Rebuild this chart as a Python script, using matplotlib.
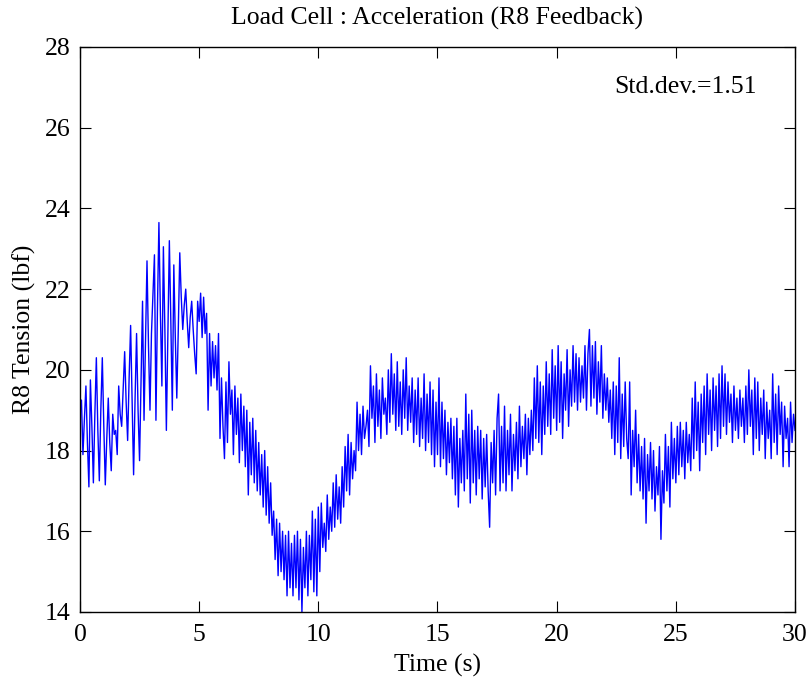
import numpy as np
import matplotlib
matplotlib.use("Agg")
import matplotlib.pyplot as plt

# load cell tension at 1/16 s steps (one row per second)
sample_dt = 1.0 / 16
tension = [
    19.2, 19.25, 17.9, 18.8, 19.6, 18.2, 17.1, 19.75, 18.6, 17.2, 18.9, 20.3, 18.5, 17.25, 19.0, 20.3,
    18.6, 17.15, 18.3, 19.3, 18.2, 17.5, 18.9, 18.4, 18.5, 17.9, 19.6, 18.9, 18.6, 19.5, 20.45, 19.2,
    18.25, 19.8, 21.1, 19.2, 17.4, 19.3, 20.9, 19.0, 17.75, 19.8, 21.7, 18.75, 20.8, 22.7, 20.6, 19.0,
    20.9, 21.9, 22.85, 18.75, 21.5, 23.65, 21.4, 19.6, 23.05, 21.0, 18.5, 20.8, 23.2, 21.2, 19.0, 22.6,
    20.8, 19.3, 21.0, 22.9, 21.8, 21.0, 21.6, 22.0, 21.2, 20.55, 21.3, 21.7, 21.0, 20.4, 19.9, 21.7,
    21.2, 21.9, 20.8, 21.8, 20.9, 21.4, 19.0, 20.9, 19.6, 20.7, 19.8, 20.6, 19.5, 20.9, 18.3, 19.8,
    18.6, 17.8, 19.7, 18.2, 20.2, 18.9, 19.5, 17.9, 19.6, 18.4, 19.3, 17.7, 19.4, 18.0, 19.1, 17.6,
    19.0, 16.9, 18.7, 17.4, 18.8, 17.2, 18.5, 17.0, 18.2, 16.9, 17.9, 16.6, 18.0, 16.4, 17.6, 16.2,
    17.2, 15.9, 16.5, 15.3, 16.3, 14.9, 16.2, 15.0, 16.0, 14.8, 15.9, 14.4, 16.0, 14.6, 15.7, 14.4,
    15.9, 14.6, 16.0, 14.3, 15.8, 14.0, 15.6, 14.6, 16.0, 14.4, 15.9, 14.8, 16.5, 14.5, 16.3, 14.4,
    16.6, 15.0, 16.7, 15.6, 16.2, 15.5, 16.9, 15.8, 16.6, 16.0, 17.2, 16.1, 17.4, 16.3, 17.1, 16.2,
    17.6, 16.6, 18.1, 17.0, 18.4, 16.9, 18.2, 17.3, 18.0, 17.5, 19.2, 18.0, 18.9, 17.9, 19.1, 18.3,
    18.6, 19.0, 18.1, 20.1, 18.8, 19.6, 18.2, 19.9, 18.6, 19.5, 18.3, 19.8, 18.9, 19.3, 18.4, 20.0,
    18.7, 20.4, 18.9, 19.9, 18.5, 20.2, 18.6, 19.7, 18.4, 20.0, 18.8, 20.3, 18.5, 19.6, 18.7, 19.8,
    18.2, 19.5, 18.4, 19.8, 18.1, 19.3, 18.3, 19.9, 18.0, 19.4, 18.2, 19.7, 17.9, 19.5, 17.6, 19.2,
    17.9, 19.8, 17.6, 19.2, 17.8, 19.0, 17.4, 18.7, 17.7, 18.8, 17.3, 18.6, 16.9, 18.8, 16.6, 18.3,
    17.2, 18.5, 17.0, 19.4, 17.3, 18.9, 16.7, 19.0, 17.2, 18.5, 16.9, 18.6, 17.3, 18.5, 16.8, 18.3,
    17.1, 18.4, 17.0, 16.1, 18.2, 17.2, 18.5, 16.9, 18.8, 19.4, 17.0, 18.6, 17.2, 19.1, 17.0, 18.5,
    17.4, 18.9, 17.0, 18.4, 17.5, 18.7, 17.3, 19.1, 17.6, 18.6, 17.8, 18.9, 17.4, 18.8, 17.9, 19.0,
    18.0, 19.8, 18.3, 20.1, 18.2, 19.7, 17.9, 19.6, 18.4, 20.2, 18.6, 19.9, 18.4, 20.5, 18.8, 20.1,
    18.5, 20.6, 18.7, 20.2, 18.3, 19.9, 19.0, 20.5, 18.6, 20.0, 19.1, 20.6, 19.2, 20.4, 19.0, 20.3,
    19.2, 20.1, 19.3, 20.6, 19.0, 20.4, 21.0, 19.1, 20.6, 19.3, 20.7, 18.9, 20.2, 19.2, 20.6, 18.8,
    19.9, 19.0, 19.8, 18.7, 19.5, 18.3, 19.7, 17.9, 19.6, 18.2, 20.3, 17.8, 19.4, 18.1, 19.7, 18.3,
    17.8, 19.7, 16.9, 18.5, 17.6, 19.0, 17.2, 18.4, 17.0, 18.1, 16.8, 18.3, 16.2, 17.9, 17.0, 18.2,
    16.8, 18.0, 16.5, 17.6, 16.9, 18.1, 15.8, 17.5, 16.7, 18.4, 17.0, 18.1, 16.6, 18.7, 17.3, 18.3,
    17.2, 18.6, 17.4, 18.7, 17.6, 18.5, 17.3, 18.7, 17.7, 18.4, 17.5, 19.3, 17.8, 19.7, 18.0, 19.2,
    17.5, 19.4, 18.2, 19.6, 17.9, 19.9, 18.4, 19.5, 18.0, 19.8, 18.5, 19.6, 18.1, 19.9, 18.3, 20.1,
    18.6, 19.9, 18.4, 19.7, 18.7, 19.4, 18.2, 19.6, 18.5, 19.3, 18.3, 19.5, 18.6, 19.3, 18.2, 19.6,
    18.4, 20.0, 18.6, 19.5, 17.9, 19.8, 18.3, 19.7, 18.0, 19.3, 18.4, 19.5, 17.8, 19.2, 18.3, 19.0,
    17.8, 19.9, 18.2, 19.4, 17.9, 19.6, 18.4, 19.2, 17.6, 19.1, 18.3, 18.8, 17.6, 19.2, 18.2, 18.9,
    18.5,
]
std_text = "Std.dev.=1.51"

time_s = np.arange(len(tension)) * sample_dt

plt.rcParams['font.family'] = ['Liberation Serif', 'DejaVu Serif']
fs = 18.5

fig = plt.figure(figsize=(8.11, 6.79), dpi=100)
ax = fig.add_axes([0.0986, 0.0987, 0.8817, 0.8321])

ax.plot(time_s, tension, color='#0000ff', linewidth=1.0)

ax.set_xlim(0, 30)
ax.set_ylim(14, 28)
ax.set_xticks(np.arange(0, 31, 5))
ax.set_yticks(np.arange(14, 29, 2))
ax.tick_params(direction='in', top=True, right=True, length=8, width=0.8, labelsize=fs)
ax.tick_params(axis='x', pad=9)
ax.tick_params(axis='y', pad=7)
for sp in ax.spines.values():
    sp.set_linewidth(1.0)

ax.set_title("Load Cell : Acceleration (R8 Feedback)", fontsize=fs, pad=16)
ax.set_xlabel("Time (s)", fontsize=fs, labelpad=5)
ax.set_ylabel("R8 Tension (lbf)", fontsize=fs, labelpad=6)
ax.text(22.4, 27.0, std_text, fontsize=fs, va='center', ha='left')

fig.savefig("out.png", dpi=100)
